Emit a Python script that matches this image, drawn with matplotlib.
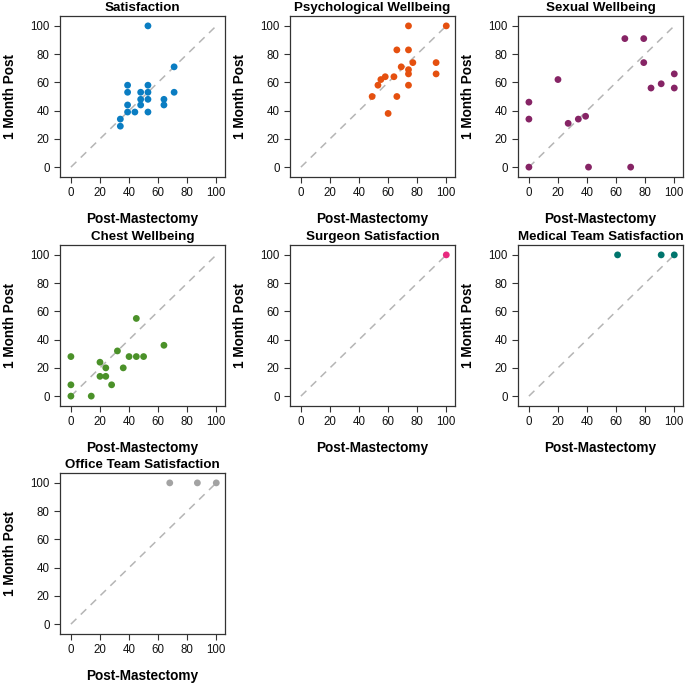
import matplotlib
matplotlib.use("Agg")
import matplotlib.pyplot as plt

plt.rcParams["font.family"] = ["Liberation Sans", "DejaVu Sans"]

# ---------------------------------------------------------------------------
# Data (post-mastectomy score, 1 month post score)
# ---------------------------------------------------------------------------
satisfaction_x = [53, 71, 71, 39, 39, 39, 39, 44, 48, 48, 48, 53, 53, 53, 53, 64, 64, 34, 34]
satisfaction_y = [100, 71, 53, 58, 53, 44, 39, 39, 53, 48, 44, 58, 53, 48, 39, 48, 44, 34, 29]

psych_x = [74, 100, 66, 74, 77, 93, 93, 69, 74, 74, 74, 64, 58, 55, 53, 49, 66, 60]
psych_y = [100, 100, 83, 83, 74, 74, 66, 71, 69, 66, 58, 64, 64, 62, 58, 50, 50, 38]

sexual_x = [0, 0, 0, 20, 27, 34, 39, 41, 66, 70, 79, 79, 84, 91, 100, 100]
sexual_y = [46, 34, 0, 62, 31, 34, 36, 0, 91, 0, 91, 74, 56, 59, 66, 56]

chest_x = [0, 0, 0, 14, 20, 20, 24, 24, 28, 32, 36, 40, 45, 45, 50, 64]
chest_y = [28, 8, 0, 0, 24, 14, 20, 14, 8, 32, 20, 28, 55, 28, 28, 36]

surgeon_x = [100]
surgeon_y = [100]

medical_x = [61, 91, 100]
medical_y = [100, 100, 100]

office_x = [68, 87, 100]
office_y = [100, 100, 100]

PANELS = [
    ("Satisfaction", satisfaction_x, satisfaction_y, "#0a7dc2"),
    ("Psychological Wellbeing", psych_x, psych_y, "#e5500f"),
    ("Sexual Wellbeing", sexual_x, sexual_y, "#862465"),
    ("Chest Wellbeing", chest_x, chest_y, "#4b9129"),
    ("Surgeon Satisfaction", surgeon_x, surgeon_y, "#e8297f"),
    ("Medical Team Satisfaction", medical_x, medical_y, "#00756d"),
    ("Office Team Satisfaction", office_x, office_y, "#a3a3a3"),
]

# ---------------------------------------------------------------------------
# Layout (pixels)
# ---------------------------------------------------------------------------
W, H = 685, 684
COL_LEFT = [60, 290, 518]
ROW_TOP = [16, 245, 473]
AX_W, AX_H = 165, 161

fig = plt.figure(figsize=(W / 100, H / 100), dpi=100)

for i, (title, xs, ys, color) in enumerate(PANELS):
    r, c = divmod(i, 3)
    left = COL_LEFT[c] / W
    bottom = 1 - (ROW_TOP[r] + AX_H) / H
    ax = fig.add_axes([left, bottom, AX_W / W, AX_H / H])

    # identity line
    ax.plot([0, 100], [0, 100], linestyle=(0, (5, 4)), color="#b5b5b5", lw=1.1, zorder=1)
    ax.scatter(xs, ys, s=24, color=color, edgecolors="none", zorder=3)

    ax.set_xlim(-7.5, 106)
    ax.set_ylim(-7, 107)
    ax.set_xticks(range(0, 101, 20))
    ax.set_yticks(range(0, 101, 20))
    ax.tick_params(direction="out", length=4.5, width=0.8, labelsize=8.3, pad=3,
                   colors="#333333", labelcolor="#111111")
    for sp in ax.spines.values():
        sp.set_linewidth(0.9)
        sp.set_color("#333333")

    ax.text(0.5, 1 + 8 / AX_H, title, transform=ax.transAxes, ha="center",
            va="center", fontsize=9.6, fontweight="bold")
    ax.set_xlabel("Post-Mastectomy", fontsize=9.8, fontweight="bold", va="center")
    ax.xaxis.set_label_coords(0.5, -42 / AX_H)
    ax.set_ylabel("1 Month Post", fontsize=9.8, fontweight="bold", va="center")
    ax.yaxis.set_label_coords(-50 / AX_W, 0.5)

fig.savefig("out.png", dpi=100)
